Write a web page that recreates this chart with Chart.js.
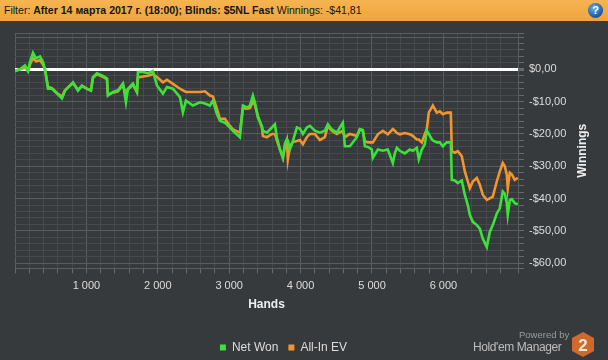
<!DOCTYPE html>
<html><head><meta charset="utf-8">
<script src="https://cdn.jsdelivr.net/npm/chart.js@4.4.1/dist/chart.umd.min.js"></script>
<style>
html,body{margin:0;padding:0;background:#373a3d;width:608px;height:360px;overflow:hidden;font-family:"Liberation Sans",Arial,sans-serif}
#hdr{position:absolute;left:0;top:0;width:608px;height:21px;background:linear-gradient(#f6b450,#eea43e);color:#161616;font-size:11.5px;line-height:21px;white-space:nowrap}
#hdr .t{position:absolute;left:4px;top:0;display:inline-block;transform-origin:left center}
#help{position:absolute;left:588px;top:3px;width:15px;height:15px;border-radius:50%;background:radial-gradient(circle at 40% 35%,#6fb0ea,#1d62ad 60%,#0c3d78);color:#fff;font:bold 11px "Liberation Sans",Arial,sans-serif;text-align:center;line-height:15px}
#wrap{position:absolute;left:0;top:21px;width:608px;height:339px}
#pw{position:absolute;left:519px;top:329px;font-size:9.5px;color:#9a9a9a}
#hm{position:absolute;left:473px;top:340px;font-size:12px;letter-spacing:-0.4px;color:#bdbdbd}
#logo{position:absolute;left:570px;top:331px}
</style></head>
<body>
<div id="hdr"><span class="t">Filter: <b>After 14 марта 2017 г. (18:00); Blinds: $5NL Fast</b> Winnings: -$41,81</span><div id="help">?</div></div>
<div id="wrap"><canvas id="c" width="608" height="339"></canvas></div>
<div id="pw">Powered by</div>
<div id="hm">Hold'em Manager</div>
<svg id="logo" width="26" height="27" viewBox="0 0 26 27"><polygon points="13,1 24,7 24,20 13,26 2,20 2,7" fill="#cf6a2c"/><text x="13" y="19.5" text-anchor="middle" font-family="Liberation Sans,Arial,sans-serif" font-weight="bold" font-size="17" fill="#f1e6dc">2</text></svg>
<script>
// ---- data (hands, cumulative winnings in $) ----
const hands = [0,70,140,182,210,252,294,350,392,420,462,518,588,658,700,812,882,938,1008,1064,
1092,1148,1232,1288,1302,1372,1442,1512,1554,1582,1652,1708,1722,1792,1862,1932,1988,2072,2128,2212,
2310,2352,2394,2492,2590,2660,2730,2772,2828,2870,2940,3010,3052,3150,3192,3248,3290,3332,3360,3402,
3458,3472,3528,3598,3640,3668,3710,3752,3780,3808,3822,3850,3892,3948,3990,4032,4088,4130,4200,4270,
4340,4382,4438,4508,4550,4592,4620,4690,4788,4830,4872,4900,4942,4998,5012,5082,5152,5222,5292,5320,
5348,5390,5460,5530,5572,5628,5656,5698,5740,5768,5796,5838,5852,5908,5950,5992,6048,6104,6118,6160,
6202,6258,6300,6342,6370,6412,6468,6510,6552,6608,6650,6692,6748,6790,6832,6860,6888,6902,6930,6958,
7000,7042];
const netWon = [-0.5,0,1.2,-0.5,2.3,5.1,3.4,4,2.3,0,-6,-6,-7.5,-9,-6.6,-4,-6.6,-5,-6,-6.6,
-2.4,-1.2,-2,-2.8,-8.1,-7,-6.5,-4.4,-10.2,-6,-4.4,-7,-0.8,-0.8,-1.2,-0.5,-5,-7.5,-5.5,-6,
-8.6,-13.3,-9.7,-11.2,-10.2,-10.6,-11.2,-9.7,-13.8,-15.9,-16.5,-18,-19,-21,-11.2,-11.8,-11.2,-8.1,-10.2,-14.9,
-17.5,-19,-19.6,-18,-17,-21,-24.7,-27.4,-23,-21.6,-22,-24.8,-22.2,-18,-18.3,-20,-18,-17.5,-19,-19.6,
-19,-17,-18.6,-19.6,-18,-16.5,-23.8,-23.8,-21,-18.5,-18.8,-23.8,-24,-24.8,-27.4,-24.8,-25.2,-24.8,-29,-26,
-24.3,-25.2,-26,-24.8,-25.2,-24.3,-27.8,-24.8,-23.2,-19,-20,-21.7,-22,-22.6,-22.6,-23.8,-22.6,-22.6,-34.2,-34.4,
-35.2,-34.4,-38.8,-42,-45,-47.2,-48.2,-49.3,-52.4,-55,-50.3,-48.2,-44.6,-43,-37.8,-38.5,-41.3,-45,-40.5,-40.2,
-41.4,-41.8];
const allInEV = [-0.5,0,0.5,-0.5,1.5,3.5,2.5,2.8,1.5,0,-5.5,-5.8,-7.3,-8.5,-6.5,-4.2,-6.3,-5.2,-6,-6.5,
-2.6,-1.5,-2.3,-3,-7.8,-7.2,-6.8,-4.8,-7.5,-6.2,-4.8,-7,-2.5,-2.2,-2,-1.5,-2.4,-4,-3.2,-4.5,
-6,-6.5,-7,-7,-7,-6.8,-8.1,-8.4,-12.2,-15.3,-15.3,-17.5,-18.6,-19.6,-12,-12.2,-12,-10,-11,-14.4,
-18,-20.6,-21,-20,-20,-22,-24.7,-27.4,-24,-22,-27.8,-23.8,-22.5,-22.2,-21.9,-23.2,-21,-20,-20,-21.9,
-21,-17.5,-19,-20,-19.5,-19,-21,-20,-20.6,-18.6,-19,-22.2,-22.6,-22.6,-22.6,-20.1,-19,-20.1,-18.5,-19,
-19.7,-20.1,-19.7,-20.1,-20.6,-21.7,-21.7,-22.6,-20.1,-18.5,-13.3,-11.8,-11.2,-13.4,-13,-13.9,-13.4,-13.4,-25.3,-25.8,
-25.3,-26.9,-31.6,-34.7,-36.8,-34.7,-33.6,-35.7,-38.8,-40.4,-39.9,-39.4,-34.7,-31.6,-29,-30,-32.6,-36.8,-32,-32.5,
-34.2,-33.6];

// ---- axis ticks ----
const xTickValues = [1000,2000,3000,4000,5000,6000];
const xTickLabels = ['1 000','2 000','3 000','4 000','5 000','6 000'];
const yTickValues = [0,-10,-20,-30,-40,-50,-60];
const yTickLabels = ['$0,00','-$10,00','-$20,00','-$30,00','-$40,00','-$50,00','-$60,00'];
const X_MIN = 0, X_MAX = 7045, Y_MIN = -61.6, Y_MAX = 11.25;
const X_MINOR = 200, Y_MINOR = 2;

// header text fit
(function(){const t=document.querySelector('#hdr .t');const w=t.offsetWidth;t.style.transform='scaleX('+(358/w)+')';})();

const GRID_MINOR = '#47494c', GRID_MAJOR = '#5a5d60', TICK_COL = '#66696c';
function gridValues(min, max, step, gap){const v=[min];for(let a=Math.ceil(min/step)*step;a<max-gap;a+=step){if(a>min)v.push(+a.toFixed(4));}v.push(max);return v;}

const titlePlugin = {
  id:'yTitle',
  afterDraw(chart){
    const c = chart.ctx, a = chart.chartArea;
    c.save();
    c.translate(583, (a.top + a.bottom)/2);
    c.rotate(-Math.PI/2);
    c.fillStyle = '#eeeeee';
    c.font = 'bold 12px "Liberation Sans", Arial, sans-serif';
    c.textAlign = 'center'; c.textBaseline = 'middle';
    c.fillText('Winnings', 0, 0);
    c.restore();
  }
};
const legendShift = {
  id:'legendShift',
  afterLayout(chart){ const l = chart.legend; if(!l) return; l.left -= 28; l.right -= 28; l.top += 13; l.bottom += 13; }
};

Chart.defaults.font.family = '"Liberation Sans", Arial, sans-serif';
new Chart(document.getElementById('c'), {
  type:'line',
  data:{ datasets:[
    {label:'Net Won', data: hands.map((h,i)=>({x:h,y:netWon[i]})), borderColor:'#3ae23a', backgroundColor:'#3ae23a', borderWidth:2.6, pointRadius:0, tension:0},
    {label:'All-In EV', data: hands.map((h,i)=>({x:h,y:allInEV[i]})), borderColor:'#f0952f', backgroundColor:'#f0952f', borderWidth:2.6, pointRadius:0, tension:0}
  ]},
  options:{
    responsive:false, animation:false, devicePixelRatio:1,
    layout:{padding:{left:15, top:12, right:0, bottom:9.6}},
    plugins:{
      tooltip:{enabled:false},
      legend:{position:'bottom', labels:{boxWidth:6, boxHeight:6, padding:10, color:'#dddddd', font:{size:12},
        generateLabels:(ch)=>Chart.defaults.plugins.legend.labels.generateLabels(ch).map(l=>Object.assign(l,{lineWidth:0}))}}
    },
    scales:{
      x:{type:'linear', min:X_MIN, max:X_MAX,
        afterBuildTicks:s=>{s.ticks=gridValues(X_MIN,X_MAX,X_MINOR,60).map(v=>({value:v}));},
        afterFit:s=>{s.height=50;},
        ticks:{autoSkip:false, maxRotation:0, minRotation:0, color:'#dddddd', font:{size:11}, padding:6,
          callback:v=>{const i=xTickValues.indexOf(v);return i>=0?xTickLabels[i]:'';}},
        grid:{color:c=>(c.tick&&(c.tick.value%1000===0||c.tick.value===X_MAX))?GRID_MAJOR:GRID_MINOR, tickLength:5, tickColor:TICK_COL},
        border:{display:true, color:GRID_MAJOR},
        title:{display:true, text:'Hands', color:'#eeeeee', font:{size:12, weight:'bold'}, padding:{top:0,bottom:7}}
      },
      y:{position:'right', min:Y_MIN, max:Y_MAX,
        afterBuildTicks:s=>{s.ticks=gridValues(Y_MIN,Y_MAX,Y_MINOR,0).map(v=>({value:v}));},
        afterFit:s=>{s.width=90;},
        ticks:{autoSkip:false, color:'#dddddd', font:{size:11}, padding:5,
          callback:v=>{const i=yTickValues.indexOf(v);return i>=0?yTickLabels[i]:'';}},
        grid:{color:c=>{const v=c.tick?c.tick.value:1;return v===0?'#ffffff':(v%10===0||v===Y_MIN||v===Y_MAX)?GRID_MAJOR:GRID_MINOR;},
              lineWidth:c=>(c.tick&&c.tick.value===0)?3:1, tickLength:6, tickColor:TICK_COL},
        border:{display:true, color:GRID_MAJOR}
      }
    }
  },
  plugins:[titlePlugin, legendShift]
});
</script>
</body></html>
